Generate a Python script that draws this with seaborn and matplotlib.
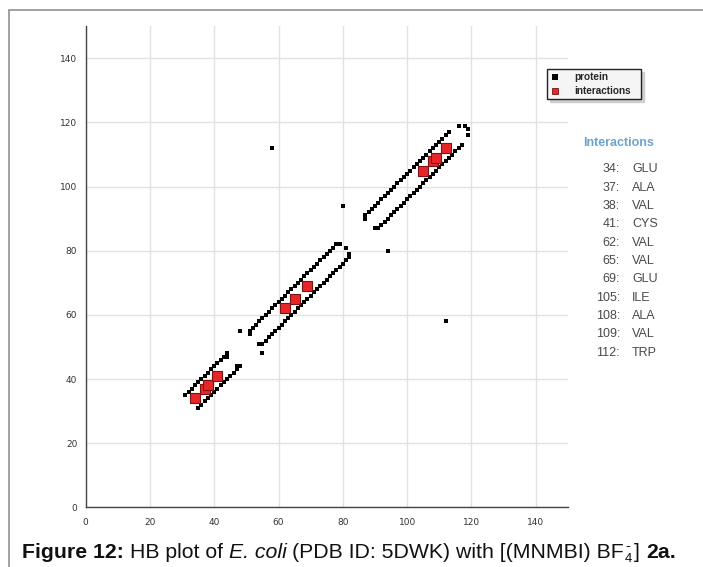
import matplotlib
matplotlib.use("Agg")
import matplotlib.pyplot as plt
from matplotlib.lines import Line2D
from matplotlib.ticker import MultipleLocator
import seaborn as sns
import pandas as pd

# ---------------- data ----------------
# helix 1 (residues ~31-48)
h1_up_x = [31, 32, 33, 34, 35, 36, 37, 38, 39, 40, 41, 42, 43, 44, 44]
h1_up_y = [35, 36, 37, 38, 39, 40, 41, 42, 43, 44, 45, 46, 47, 48, 47]
h1_lo_x = [35, 36, 37, 38, 39, 40, 41, 42, 43, 44, 45, 46, 47, 48, 47]
h1_lo_y = [31, 32, 33, 34, 35, 36, 37, 38, 39, 40, 41, 42, 43, 44, 44]
# helix 2 (residues ~51-82)
h2_up_x = [51, 51, 52, 53, 54, 55, 56, 57, 58, 59, 60, 61, 62, 63, 64, 65,
           66, 67, 68, 69, 70, 71, 72, 73, 74, 75, 76, 77, 78, 79, 81]
h2_up_y = [54, 55, 56, 57, 58, 59, 60, 61, 62, 63, 64, 65, 66, 67, 68, 69,
           70, 71, 72, 73, 74, 75, 76, 77, 78, 79, 80, 81, 82, 82, 81]
h2_lo_x = [54, 55, 56, 57, 58, 59, 60, 61, 62, 63, 64, 65, 66, 67, 68, 69,
           70, 71, 72, 73, 74, 75, 76, 77, 78, 79, 80, 81, 82, 82]
h2_lo_y = [51, 51, 52, 53, 54, 55, 56, 57, 58, 59, 60, 61, 62, 63, 64, 65,
           66, 67, 68, 69, 70, 71, 72, 73, 74, 75, 76, 77, 78, 79]
# helix 3 (residues ~87-119)
h3_up_x = [87, 87, 88, 89, 90, 91, 92, 93, 94, 95, 96, 97, 98, 99, 100, 101,
           102, 103, 104, 105, 106, 107, 108, 109, 110, 111, 112, 113, 116, 118]
h3_up_y = [90, 91, 92, 93, 94, 95, 96, 97, 98, 99, 100, 101, 102, 103, 104, 105,
           106, 107, 108, 109, 110, 111, 112, 113, 114, 115, 116, 117, 119, 119]
h3_lo_x = [90, 91, 92, 93, 94, 95, 96, 97, 98, 99, 100, 101, 102, 103, 104, 105,
           106, 107, 108, 109, 110, 111, 112, 113, 114, 115, 116, 117, 119, 119]
h3_lo_y = [87, 87, 88, 89, 90, 91, 92, 93, 94, 95, 96, 97, 98, 99, 100, 101,
           102, 103, 104, 105, 106, 107, 108, 109, 110, 111, 112, 113, 118, 116]
# isolated contacts
iso_x = [48, 55, 58, 112, 80, 94]
iso_y = [55, 48, 112, 58, 94, 80]

# interaction residues (on the diagonal)
inter_res = [34, 37, 38, 41, 62, 65, 69, 105, 108, 109, 112]
inter_names = ["GLU", "ALA", "VAL", "CYS", "VAL", "VAL", "GLU", "ILE", "ALA", "VAL", "TRP"]

x_ticks = [0, 20, 40, 60, 80, 100, 120, 140]
y_ticks = [0, 20, 40, 60, 80, 100, 120, 140]

prot_x = h1_up_x + h1_lo_x + h2_up_x + h2_lo_x + h3_up_x + h3_lo_x + iso_x
prot_y = h1_up_y + h1_lo_y + h2_up_y + h2_lo_y + h3_up_y + h3_lo_y + iso_y
prot_df = pd.DataFrame({"x": prot_x, "y": prot_y})
inter_df = pd.DataFrame({"x": inter_res, "y": inter_res})

# ---------------- figure ----------------
sns.set_style("white")
plt.rcParams["font.family"] = ["Liberation Sans", "DejaVu Sans"]

W, H = 703, 567
fig = plt.figure(figsize=(W / 100, H / 100), dpi=100)
fig.patch.set_facecolor("white")

x0, x1 = 85.7, 567.8
ytop, ybot = 26.3, 507.3
ax = fig.add_axes([x0 / W, 1 - ybot / H, (x1 - x0) / W, (ybot - ytop) / H])

sns.scatterplot(data=prot_df, x="x", y="y", ax=ax, marker="s", s=11,
                color="black", linewidth=0, zorder=3)
sns.scatterplot(data=inter_df, x="x", y="y", ax=ax, marker="s", s=52,
                color="#e8262a", edgecolor="#7a1414", linewidth=0.8, zorder=4)

ax.set_xlim(0, 150)
ax.set_ylim(0, 150)
ax.set_xticks(x_ticks)
ax.set_yticks(y_ticks)
ax.xaxis.set_minor_locator(MultipleLocator(10))
ax.yaxis.set_minor_locator(MultipleLocator(10))
ax.set_xlabel("")
ax.set_ylabel("")
ax.grid(True, which="major", color="#e2e2e2", linewidth=1, zorder=0)
ax.set_axisbelow(True)
for side in ["top", "right"]:
    ax.spines[side].set_visible(False)
for side in ["left", "bottom"]:
    ax.spines[side].set_color("#444444")
    ax.spines[side].set_linewidth(1.0)
ax.tick_params(which="both", direction="in", length=3, width=1, color="#444444",
               labelsize=6.5, labelcolor="#333333")
ax.tick_params(axis="x", which="major", pad=8)
ax.tick_params(axis="y", which="major", pad=6)
for lab in ax.get_xticklabels() + ax.get_yticklabels():
    lab.set_fontfamily("DejaVu Sans")

# legend
handles = [
    Line2D([], [], marker="s", linestyle="none", markersize=5, color="black",
           markeredgewidth=0),
    Line2D([], [], marker="s", linestyle="none", markersize=5,
           markerfacecolor="#e8262a", markeredgecolor="#7a1414", markeredgewidth=0.6),
]
leg = ax.legend(handles, ["protein", "interactions"], loc="upper left",
                bbox_to_anchor=(547 / W, 1 - 100.7 / H, 94 / W, 31.4 / H),
                bbox_transform=fig.transFigure, mode="expand",
                borderaxespad=0, frameon=True, fancybox=False,
                shadow={"facecolor": "#cfcfcf", "edgecolor": "#cfcfcf", "alpha": 1},
                prop={"family": "Liberation Sans", "weight": "bold", "size": 7.2},
                borderpad=0.3, labelspacing=0.4, handlelength=1.05, handletextpad=1.4)
leg.get_frame().set_facecolor("#f4f5f4")
leg.get_frame().set_edgecolor("#222222")
leg.get_frame().set_linewidth(1.0)
leg.get_frame().set_alpha(1)

# interactions list
fig.text(583 / W, 1 - 142.7 / H, "Interactions", ha="left", va="center",
         fontsize=9, fontweight="bold", color="#6ea3d0")
row0, dy = 169.3, 18.34
for k, (r, n) in enumerate(zip(inter_res, inter_names)):
    yy = 1 - (row0 + k * dy) / H
    fig.text(620 / W, yy, f"{r}:", ha="right", va="center", fontsize=9, color="#4a4a4a")
    fig.text(632 / W, yy, n, ha="left", va="center", fontsize=9, color="#4a4a4a")

# caption, built from styled pieces placed one after another
renderer = fig.canvas.get_renderer()
cap_fs = 15.3
base_y = 1 - 557.5 / H
space_px = 0.278 * cap_fs * 100 / 72
cur_x = 22.0


def put(text, weight="normal", style="normal", size=cap_fs, dy_px=0.0, advance=True):
    global cur_x
    t = fig.text(cur_x / W, base_y + dy_px / H, text, ha="left", va="baseline",
                 fontsize=size, fontweight=weight, fontstyle=style, color="#111111",
                 fontfamily="Liberation Sans")
    w = t.get_window_extent(renderer).width
    if advance:
        cur_x += w
    return w


put("Figure 12:", weight="bold")
cur_x += space_px
put("HB plot of")
cur_x += space_px
put("E. coli", style="italic")
cur_x += space_px
put("(PDB ID: 5DWK) with [(MNMBI) BF")
cur_x += 1
w4 = put("4", size=cap_fs * 0.62, dy_px=-4.5, advance=False)
wm = put("-", size=cap_fs * 0.7, dy_px=7.0, advance=False)
cur_x += max(w4, wm) + 1.5
put("]")
cur_x += space_px
put("2a.", weight="bold")

# outer frame lines
fig.add_artist(Line2D([9 / W, 9 / W], [0, 1 - 9.5 / H], transform=fig.transFigure,
                      color="#9a9a9a", linewidth=1.3))
fig.add_artist(Line2D([9 / W, 1], [1 - 9.5 / H, 1 - 9.5 / H], transform=fig.transFigure,
                      color="#9a9a9a", linewidth=1.3))

fig.savefig("out.png", dpi=100, facecolor="white")
